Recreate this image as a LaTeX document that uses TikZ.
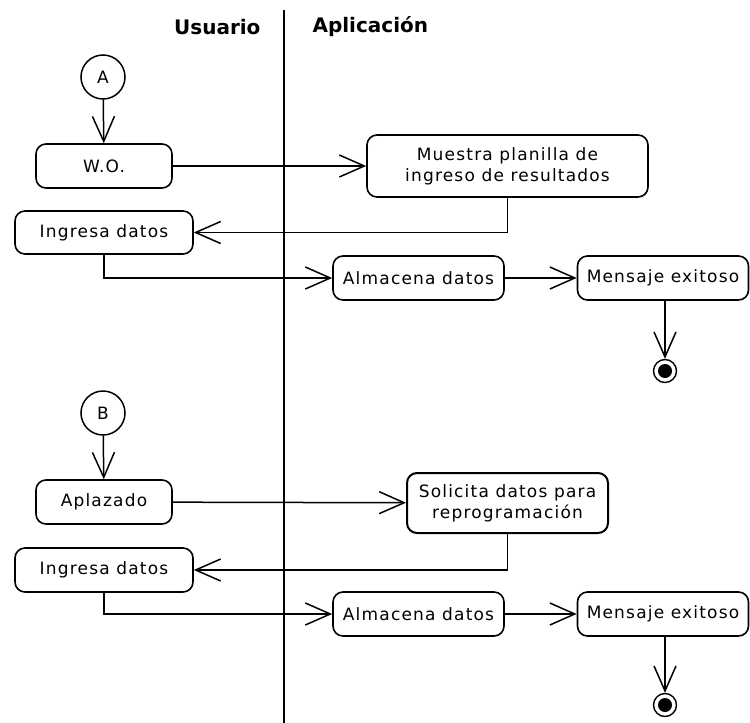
\documentclass[tikz,border=0pt]{standalone}
\usepackage{fontspec}
\setmainfont{DejaVu Sans}
\newfontfamily\lblfont[LetterSpace=7]{DejaVu Sans}
\usetikzlibrary{arrows.meta}
\begin{document}
\begin{tikzpicture}[x=1pt,y=-1pt,
  act/.style={draw, rounded corners=10pt, line width=1.6pt, align=center, inner sep=0pt,
    font=\lblfont\fontsize{17}{21}\selectfont},
  conn/.style={line width=1.5pt, -{Straight Barb[length=25pt,width=22pt,line width=1.5pt]}},
  conncirc/.style={draw, circle, line width=1.5pt, minimum size=44pt, inner sep=0pt,
    font=\lblfont\fontsize{17}{21}\selectfont},
  finout/.style={draw, circle, line width=1.4pt, minimum size=23pt, inner sep=0pt},
  finin/.style={fill, circle, minimum size=14pt, inner sep=0pt},
  lane/.style={font=\bfseries\fontsize{20}{24}\selectfont}
]
\useasboundingbox (0,0) rectangle (750,723);
\draw[line width=1.5pt] (284,10) coordinate (lt) -- (284,723) coordinate (lb);
\node[lane, anchor=east] (hu) at (264,27) {Usuario};
\node[lane, anchor=west] (ha) at (309,27) {Aplicación};

% Flow A
\node[conncirc] (A) at (103,77) {A};
\node[act, minimum width=136pt, minimum height=44pt] (wo) at (104,166) {W.O.};
\node[act, minimum width=281pt, minimum height=62pt] (mu) at (507.5,166) {Muestra planilla de\\ingreso de resultados};
\node[act, minimum width=178pt, minimum height=43pt] (i1) at (104,232.5) {Ingresa datos};
\node[act, minimum width=171pt, minimum height=44pt] (a1) at (418.5,278) {Almacena datos};
\node[act, minimum width=171pt, minimum height=44pt] (m1) at (663,278) {Mensaje exitoso};
\node[finout] (f1) at (665,371) {};
\node[finin] (f1i) at (f1) {};

\draw[conn] (A) -- (wo);
\draw[conn] (wo) -- (mu);
\draw[conn] (mu.south) |- (i1.east);
\draw[conn] (i1.south) |- (a1.west);
\draw[conn] (a1) -- (m1);
\draw[conn] (m1.south -| f1) -- (f1.north);

% Flow B
\node[conncirc] (B) at (103,413) {B};
\node[act, minimum width=136pt, minimum height=44pt] (ap) at (104,502) {Aplazado};
\node[act, line width=2pt, minimum width=201pt, minimum height=60pt] (so) at (507.5,503) {Solicita datos para\\reprogramación};
\node[act, minimum width=178pt, minimum height=44pt] (i2) at (104,570) {Ingresa datos};
\node[act, minimum width=171pt, minimum height=44pt] (a2) at (418.5,614) {Almacena datos};
\node[act, minimum width=171pt, minimum height=44pt] (m2) at (663,614) {Mensaje exitoso};
\node[finout] (f2) at (665,705) {};
\node[finin] (f2i) at (f2) {};

\draw[conn] (B) -- (ap);
\draw[conn] (ap) -- (so);
\draw[conn] (so.south) |- (i2.east);
\draw[conn] (i2.south) |- (a2.west);
\draw[conn] (a2) -- (m2);
\draw[conn] (m2.south -| f2) -- (f2.north);
\end{tikzpicture}
\end{document}
